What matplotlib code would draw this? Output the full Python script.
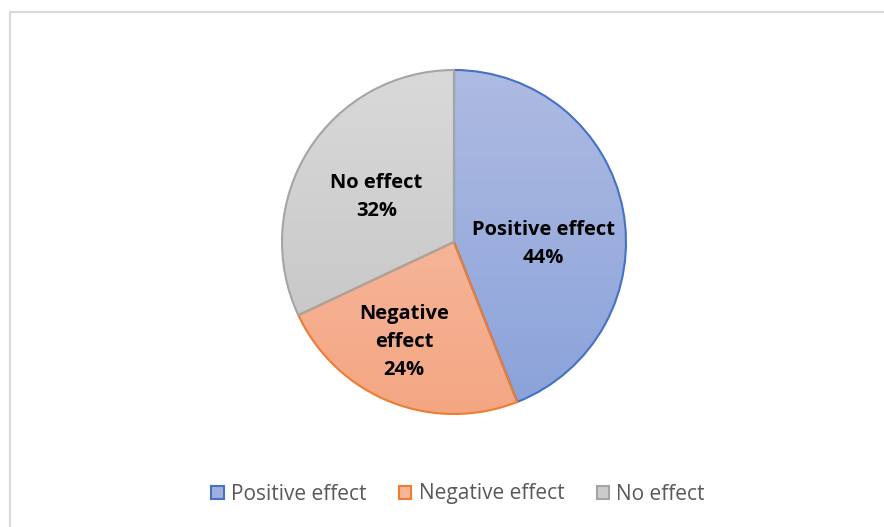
import numpy as np
import matplotlib
matplotlib.use("Agg")
import matplotlib.pyplot as plt
from matplotlib.colors import LinearSegmentedColormap
from matplotlib.patches import Rectangle, Patch

plt.rcParams['font.family'] = ['Open Sans', 'DejaVu Sans']

labels = ['Positive effect', 'Negative effect', 'No effect']
shares = [44, 24, 32]
slice_text = ['Positive effect\n44%', 'Negative\neffect\n24%', 'No effect\n32%']
text_pos = [(0.52, -0.01), (-0.29, -0.58), (-0.45, 0.26)]

# gradient fills (top colour, bottom colour) and outline colours
grad_top = ['#aebbe2', '#f8c3ab', '#d9d9d9']
grad_bot = ['#8aa2da', '#f4a683', '#c2c2c2']
edges = ['#4472c4', '#ed7d31', '#a5a5a5']

fig = plt.figure(figsize=(8.84, 5.27), dpi=100)
fig.patch.set_facecolor('white')

# chart area border
fig.add_artist(Rectangle((10 / 884, -0.05), 1.0, 1 - 12 / 527 + 0.05,
                         transform=fig.transFigure, fill=False,
                         edgecolor='#d9d9d9', linewidth=1.5))

cx, cy, r = 454, 242, 172
ax = fig.add_axes([(cx - r) / 884, (527 - cy - r) / 527, 2 * r / 884, 2 * r / 527])

wedges, _ = ax.pie(shares, startangle=90, counterclock=False, radius=1,
                   wedgeprops=dict(linewidth=1.5))
ax.set_xlim(-1, 1)
ax.set_ylim(-1, 1)
ax.axis('off')

grad = np.linspace(0, 1, 256).reshape(-1, 1)
for w, top, bot, ec in zip(wedges, grad_top, grad_bot, edges):
    w.set_facecolor('none')
    w.set_edgecolor(ec)
    w.set_zorder(3)
    w.set_clip_on(False)
    cmap = LinearSegmentedColormap.from_list('g', [top, bot])
    im = ax.imshow(grad, cmap=cmap, extent=[-1, 1, -1, 1], origin='upper',
                   aspect='auto', zorder=1)
    im.set_clip_path(w)

for (x, y), t in zip(text_pos, slice_text):
    ax.text(x, y, t, ha='center', va='center', fontsize=14.5,
            fontweight='bold', color='black', linespacing=1.55, zorder=5)

handles = [Patch(facecolor=c, edgecolor=e, linewidth=1.5)
           for c, e in zip(['#9fb0de', '#f6b498', '#cccccc'], edges)]
leg = fig.legend(handles, labels, loc='center', bbox_to_anchor=(458 / 884, 1 - 494 / 527),
                 ncol=3, frameon=False, fontsize=15, handlelength=0.6,
                 handleheight=0.6, handletextpad=0.35, columnspacing=1.55)
for t in leg.get_texts():
    t.set_color('#595959')

fig.savefig('out.png', dpi=100)
